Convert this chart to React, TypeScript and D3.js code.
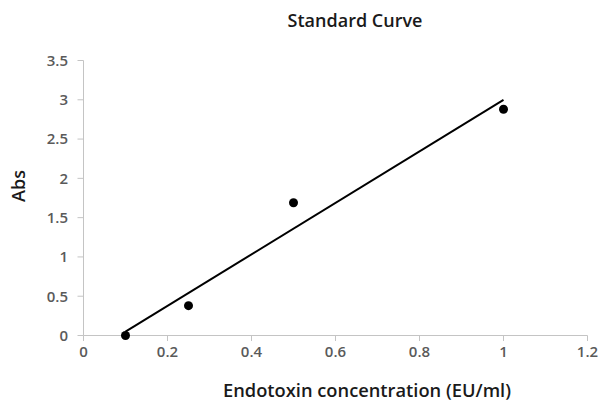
import React from "react";
import * as d3 from "d3";

// Endotoxin standard measurements
const concentrations = [0.1, 0.25, 0.5, 1.0];
const absorbances = [0.0, 0.38, 1.69, 2.88];
const xTicks = [0, 0.2, 0.4, 0.6, 0.8, 1, 1.2];
const yTicks = [0, 0.5, 1, 1.5, 2, 2.5, 3, 3.5];

const W = 603;
const H = 404;
const FONT = "'Open Sans', 'DejaVu Sans', sans-serif";

// least-squares fit for the trend line
function linearFit(xs: number[], ys: number[]) {
  const mx = d3.mean(xs)!;
  const my = d3.mean(ys)!;
  let sxy = 0;
  let sxx = 0;
  xs.forEach((x, i) => {
    sxy += (x - mx) * (ys[i] - my);
    sxx += (x - mx) * (x - mx);
  });
  const slope = sxy / sxx;
  return { slope, intercept: my - slope * mx };
}

export default function App() {
  const x = d3.scaleLinear().domain([0, 1.2]).range([83.5, 587.5]);
  const y = d3.scaleLinear().domain([0, 3.5]).range([335.5, 60.5]);
  const fit = linearFit(concentrations, absorbances);
  const x0 = d3.min(concentrations)!;
  const x1 = d3.max(concentrations)!;
  const trend = d3
    .line<number>()
    .x((d) => x(d))
    .y((d) => y(fit.slope * d + fit.intercept))([x0, x1]);

  const axisColor = "#c4c4c4";
  const tickText = "#5a5a5a";

  return (
    <svg
      width={W}
      height={H}
      style={{ position: "absolute", left: 0, top: 0, background: "#fff" }}
      fontFamily={FONT}
    >
      <text
        x={355}
        y={27}
        textAnchor="middle"
        fontSize={18}
        fontWeight={600}
        fill="#1a1a1a"
      >
        Standard Curve
      </text>

      {/* y axis */}
      <line x1={83.5} x2={83.5} y1={y(3.5)} y2={y(0)} stroke={axisColor} />
      {yTicks.map((t) => (
        <g key={"y" + t}>
          <line x1={77.5} x2={83.5} y1={y(t)} y2={y(t)} stroke={axisColor} />
          <text
            x={68}
            y={y(t)}
            dy="0.36em"
            textAnchor="end"
            fontSize={15}
            fontWeight={600}
            fill={tickText}
          >
            {d3.format("~g")(t)}
          </text>
        </g>
      ))}

      {/* x axis */}
      <line x1={x(0)} x2={x(1.2)} y1={335.5} y2={335.5} stroke={axisColor} />
      {xTicks.map((t) => (
        <g key={"x" + t}>
          <line x1={x(t)} x2={x(t)} y1={335.5} y2={341} stroke={axisColor} />
          <text
            x={x(t)}
            y={357}
            textAnchor="middle"
            fontSize={15}
            fontWeight={600}
            fill={tickText}
          >
            {d3.format("~g")(t)}
          </text>
        </g>
      ))}

      <text
        transform="translate(25,186) rotate(-90)"
        textAnchor="middle"
        fontSize={18}
        fontWeight={600}
        fill="#1a1a1a"
      >
        Abs
      </text>
      <text
        x={367}
        y={397}
        textAnchor="middle"
        fontSize={18.3}
        fontWeight={600}
        fill="#1a1a1a"
      >
        Endotoxin concentration (EU/ml)
      </text>

      <path d={trend ?? ""} fill="none" stroke="#000" strokeWidth={2} />

      {concentrations.map((c, i) => (
        <circle key={i} cx={x(c)} cy={y(absorbances[i])} r={4.5} fill="#000" />
      ))}
    </svg>
  );
}
